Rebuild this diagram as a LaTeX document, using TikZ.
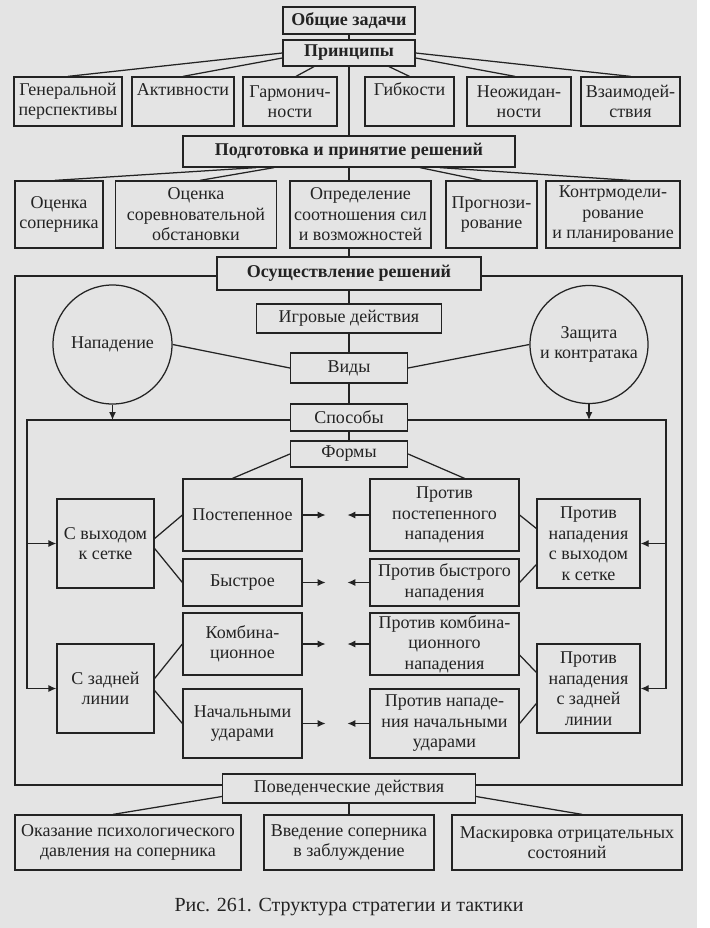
\documentclass[tikz,border=0pt]{standalone}
\usepackage{fontspec}
\setmainfont{Liberation Serif}
\usetikzlibrary{arrows.meta,shapes.geometric}
\definecolor{bg}{RGB}{228,228,228}
\definecolor{ink}{RGB}{35,35,35}
\begin{document}
\begin{tikzpicture}[x=1pt,y=-1pt,
  bx/.style={draw=ink, line width=1.25pt, rectangle, inner sep=0pt, align=center, text=ink,
             font=\fontsize{18}{20.5}\selectfont},
  hd/.style={bx, font=\bfseries\fontsize{18}{20.5}\selectfont},
  circ/.style={draw=ink, line width=1.25pt, circle, inner sep=0pt, align=center, text=ink,
             font=\fontsize{18}{20.5}\selectfont},
  ln/.style={draw=ink, line width=1.25pt},
  arr/.style={ln, -{Latex[length=8pt,width=7pt]}},
]
\fill[white] (0,0) rectangle (709,928);
\fill[bg] (0,0) rectangle (697,928);
\useasboundingbox (0,0) rectangle (709,928);

% top
\node[hd, minimum width=132pt, minimum height=27pt] (obsch) at (349,20.5) {Общие задачи};
\node[hd, minimum width=132pt, minimum height=26pt] (princ) at (349,53) {Принципы};

% principles
\node[bx, minimum width=108pt, minimum height=49pt] (gen)   at (68,101.5)  {Генеральной\\перспективы};
\node[bx, minimum width=102pt, minimum height=49pt] (akt)   at (183,101.5) {Активности\\\vphantom{р}};
\node[bx, minimum width=94pt,  minimum height=49pt] (garm)  at (290,101.5) {Гармонич-\\ности};
\node[bx, minimum width=89pt,  minimum height=49pt] (gib)   at (409.5,101.5) {Гибкости\\\vphantom{р}};
\node[bx, minimum width=104pt, minimum height=49pt] (neozh) at (519,101.5) {Неожидан-\\ности};
\node[bx, minimum width=99pt,  minimum height=49pt] (vzaim) at (630.5,101.5) {Взаимодей-\\ствия};

% preparation
\node[hd, minimum width=332pt, minimum height=31pt] (podg) at (349,151.5) {Подготовка и принятие решений};
\node[bx, minimum width=88pt,  minimum height=67pt] (ocsop) at (59,214.5)  {Оценка\\соперника};
\node[bx, minimum width=161pt, minimum height=67pt] (ocsor) at (196,214.5) {Оценка\\соревновательной\\обстановки};
\node[bx, minimum width=141pt, minimum height=67pt] (opred) at (360.5,214.5) {Определение\\соотношения сил\\и возможностей};
\node[bx, minimum width=91pt,  minimum height=67pt] (prog)  at (491.5,214.5) {Прогнози-\\рование};
\node[bx, minimum width=134pt, minimum height=67pt] (kontr) at (613,214.5) {Контрмодели-\\рование\\и планирование};

% realisation
\node[hd, minimum width=264pt, minimum height=33pt] (osush) at (349,273.5) {Осуществление решений};
\node[bx, minimum width=185pt, minimum height=29pt] (igr) at (349,318.5) {Игровые действия};
\node[bx, minimum width=117pt, minimum height=30pt] (vidy) at (349,368) {Виды};
\node[bx, minimum width=117pt, minimum height=27pt] (sposoby) at (349,417.5) {Способы};
\node[bx, minimum width=117pt, minimum height=26pt] (formy) at (349,454) {Формы};

\node[circ, minimum size=119pt] (napad) at (112.5,344.5) {Нападение};
\node[circ, minimum size=118pt] (zasch) at (589,344.5) {Защита\\и контратака};

% forms
\node[bx, minimum width=97pt, minimum height=89pt] (svyh) at (105.5,543.5) {С выходом\\к сетке};
\node[bx, minimum width=97pt, minimum height=89pt] (szad) at (105.5,688.5) {С задней\\линии};
\node[bx, minimum width=119pt, minimum height=72pt] (post)  at (242.5,515)   {Постепенное};
\node[bx, minimum width=119pt, minimum height=47pt] (bystr) at (242.5,582.5) {Быстрое};
\node[bx, minimum width=119pt, minimum height=62pt] (komb)  at (242.5,644)   {Комбина-\\ционное};
\node[bx, minimum width=119pt, minimum height=69pt] (nach)  at (242.5,723.5) {Начальными\\ударами};
\node[bx, minimum width=149pt, minimum height=72pt] (ppost)  at (444.5,515)   {Против\\постепенного\\нападения};
\node[bx, minimum width=149pt, minimum height=47pt] (pbystr) at (444.5,582.5) {Против быстрого\\нападения};
\node[bx, minimum width=149pt, minimum height=62pt] (pkomb)  at (444.5,644)   {Против комбина-\\ционного\\нападения};
\node[bx, minimum width=149pt, minimum height=69pt] (pnach)  at (444.5,723.5) {Против нападе-\\ния начальными\\ударами};
\node[bx, minimum width=103pt, minimum height=89pt] (pvyh) at (588.5,543.5) {Против\\нападения\\с выходом\\к сетке};
\node[bx, minimum width=103pt, minimum height=89pt] (pzad) at (588.5,688.5) {Против\\нападения\\с задней\\линии};

% behaviour
\node[bx, minimum width=253pt, minimum height=29pt] (poved) at (349,788.5) {Поведенческие действия};
\node[bx, minimum width=226pt, minimum height=55pt] (okaz) at (128,842.5) {Оказание психологического\\давления на соперника};
\node[bx, minimum width=170pt, minimum height=55pt] (vved) at (349,842.5) {Введение соперника\\в заблуждение};
\node[bx, minimum width=230pt, minimum height=55pt] (mask) at (567,842.5) {Маскировка отрицательных\\состояний};

\node[anchor=base, text=ink, font=\fontsize{20}{24}\selectfont] (cap) at (349,911) {Рис. 261. Структура стратегии и тактики};

% frame corners
\coordinate (otl) at (15,276);
\coordinate (otr) at (682,276);
\coordinate (obl) at (15,785);
\coordinate (obr) at (682,785);
\coordinate (itl) at (27,420);
\coordinate (itr) at (666,420);

% central spine
\draw[ln] (obsch) -- (princ);
\draw[ln] (princ) -- (podg);
\draw[ln] (podg.south) -- (podg.south |- opred.north);
\draw[ln] (podg.south |- opred.south) -- (osush.north);
\draw[ln] (osush) -- (igr);
\draw[ln] (igr) -- (vidy);
\draw[ln] (vidy) -- (sposoby);
\draw[ln] (sposoby) -- (formy);
\draw[ln] (poved) -- (vved);

% principles
\draw[ln] (princ.west) -- (gen.north);
\draw[ln] ([yshift=-5pt]princ.west) -- (akt.north);
\draw[ln] ([xshift=-35pt]princ.south) -- ([xshift=6pt]garm.north);
\draw[ln] ([xshift=40pt]princ.south) -- (gib.north);
\draw[ln] ([yshift=-5pt]princ.east) -- ([xshift=-4pt]neozh.north);
\draw[ln] (princ.east) -- (vzaim.north);

% preparation
\draw[ln] ([xshift=-93pt]podg.south) -- ([xshift=-4pt]ocsop.north);
\draw[ln] ([xshift=-75pt]podg.south) -- ([xshift=4pt]ocsor.north);
\draw[ln] ([xshift=71pt]podg.south) -- ([xshift=-10pt]prog.north);
\draw[ln] ([xshift=91pt]podg.south) -- ([xshift=17pt]kontr.north);

% outer frame
\draw[ln] (osush.west |- otl) -- (otl) -- (obl) -- (poved.west |- obl);
\draw[ln] (osush.east |- otr) -- (otr) -- (obr) -- (poved.east |- obr);

% circles
\draw[ln] (napad.east) -- (vidy.west);
\draw[ln] (vidy.east) -- (zasch.west);
\draw[arr] (napad.south) -- (napad.south |- itl);
\draw[arr] (zasch.south) -- (zasch.south |- itr);

% inner frame
\draw[arr] (sposoby.west |- itl) -- (itl) |- (szad.west);
\draw[arr] (itl |- svyh.west) -- (svyh.west);
\draw[arr] (sposoby.east |- itr) -- (itr) |- (pzad.east);
\draw[arr] (itr |- pvyh.east) -- (pvyh.east);

% forms
\draw[ln] (formy.west) -- ([xshift=-10pt]post.north);
\draw[ln] (formy.east) -- ([xshift=20pt]ppost.north);
\draw[ln] ([yshift=5pt]svyh.east) -- (post.west);
\draw[ln] ([yshift=-5pt]svyh.east) -- (bystr.west);
\draw[ln] ([yshift=10pt]szad.east) -- (komb.west);
\draw[ln] ([yshift=-2pt]szad.east) -- (nach.west);
\draw[ln] (ppost.east) -- ([yshift=15pt]pvyh.west);
\draw[ln] (pbystr.east) -- ([yshift=-21pt]pvyh.west);
\draw[ln] ([yshift=-11pt]pkomb.east) -- ([yshift=16pt]pzad.west);
\draw[ln] (pnach.east) -- ([yshift=-15pt]pzad.west);

\foreach \a/\b in {post/ppost, bystr/pbystr, komb/pkomb, nach/pnach}{
  \draw[arr] (\a.east) -- ++(23,0);
  \draw[arr] (\b.west) -- ++(-22,0);
}

% behaviour
\draw[ln] ([yshift=-8pt]poved.west) -- ([xshift=-15pt]okaz.north);
\draw[ln] ([yshift=-8pt]poved.east) -- ([xshift=15pt]mask.north);
\end{tikzpicture}
\end{document}
